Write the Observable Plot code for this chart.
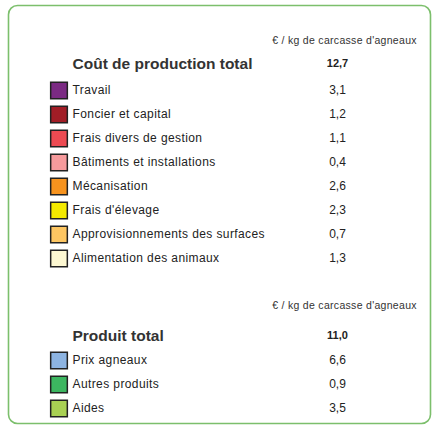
<!DOCTYPE html>
<html>
<head>
<meta charset="utf-8">
<script src="https://cdn.jsdelivr.net/npm/d3@7"></script>
<script src="https://cdn.jsdelivr.net/npm/@observablehq/plot@0.6"></script>
<style>
  html, body { margin: 0; padding: 0; background: #ffffff; }
  #chart svg { display: block; }
  .lbl text { letter-spacing: 0.4px; }
  .unit text { letter-spacing: 0.3px; }
</style>
</head>
<body>
<div id="chart"></div>
<script>
// ---- Data ----
const unitLabel = "€ / kg de carcasse d'agneaux";
const sectionTitles = ["Coût de production total", "Produit total"];
const sectionTotals = [12.7, 11.0];

const costCategories = [
  "Travail",
  "Foncier et capital",
  "Frais divers de gestion",
  "Bâtiments et installations",
  "Mécanisation",
  "Frais d'élevage",
  "Approvisionnements des surfaces",
  "Alimentation des animaux"
];
const costValues = [3.1, 1.2, 1.1, 0.4, 2.6, 2.3, 0.7, 1.3];
const costColors = ["#7b2a83", "#a11d26", "#ec4a52", "#f69a9c", "#f7931e", "#f4ea00", "#fdc662", "#fdf8d2"];

const productCategories = ["Prix agneaux", "Autres produits", "Aides"];
const productValues = [6.6, 0.9, 3.5];
const productColors = ["#8db4e2", "#3cb660", "#a9d153"];

// ---- Layout (not data) ----
const COL = {swatch: 58.5, label: 72, value: 337, unit: 344, title: 72};
const font = "'Liberation Sans', Arial, sans-serif";
const fmt = d3.formatLocale({decimal: ",", thousands: " ", grouping: [3], currency: ["", "€"]}).format(".1f");

const costItems = costCategories.map((c, i) => ({key: c, category: c, value: costValues[i]}));
const productItems = productCategories.map((c, i) => ({key: c, category: c, value: productValues[i]}));

const rows = ["unit1", "total1", ...costCategories, "gap", "unit2", "total2", ...productCategories];

function sectionMarks(items, unitKey, totalKey, title, total, shift) {
  return [
    Plot.text([unitLabel], {x: () => COL.unit, y: () => unitKey, text: d => d, fontSize: 10.5, fill: "#333", dy: shift > 0 ? -1 : -2, textAnchor: "middle", className: "unit"}),
    Plot.text([title], {x: () => COL.title, y: () => totalKey, text: d => d, fontSize: 15.5, fontWeight: "bold", fill: "#333", textAnchor: "start", dy: shift > 0 ? shift : -2}),
    Plot.text([total], {x: () => COL.value, y: () => totalKey, text: d => fmt(d), fontSize: 11, fontWeight: "bold", fill: "#222", textAnchor: "middle", dy: shift > 0 ? shift - 1 : -3}),
    Plot.dot(items, {x: () => COL.swatch, y: "key", fill: "category", symbol: "square", r: 9.4, stroke: "#222", strokeWidth: 1.5, dy: shift}),
    Plot.text(items, {x: () => COL.label, y: "key", text: "category", fontSize: 12, fill: "#222", textAnchor: "start", dy: shift, className: "lbl"}),
    Plot.text(items, {x: () => COL.value, y: "key", text: d => fmt(d.value), fontSize: 12, fill: "#222", textAnchor: "middle", dy: shift})
  ];
}

const chart = Plot.plot({
  width: 433,
  height: 426,
  marginLeft: 8,
  marginRight: 3,
  marginTop: 5,
  marginBottom: 3,
  style: {fontFamily: font, background: "#ffffff", overflow: "visible"},
  x: {type: "linear", domain: [8, 430], axis: null},
  y: {type: "point", domain: rows, range: [42, 402], padding: 0, axis: null},
  color: {domain: [...costCategories, ...productCategories], range: [...costColors, ...productColors]},
  marks: [
    Plot.frame({rx: 9, stroke: "#7cbf6c", strokeWidth: 1.6}),
    ...sectionMarks(costItems, "unit1", "total1", sectionTitles[0], sectionTotals[0], 0),
    ...sectionMarks(productItems, "unit2", "total2", sectionTitles[1], sectionTotals[1], 6)
  ]
});

document.getElementById("chart").appendChild(chart);
</script>
</body>
</html>
